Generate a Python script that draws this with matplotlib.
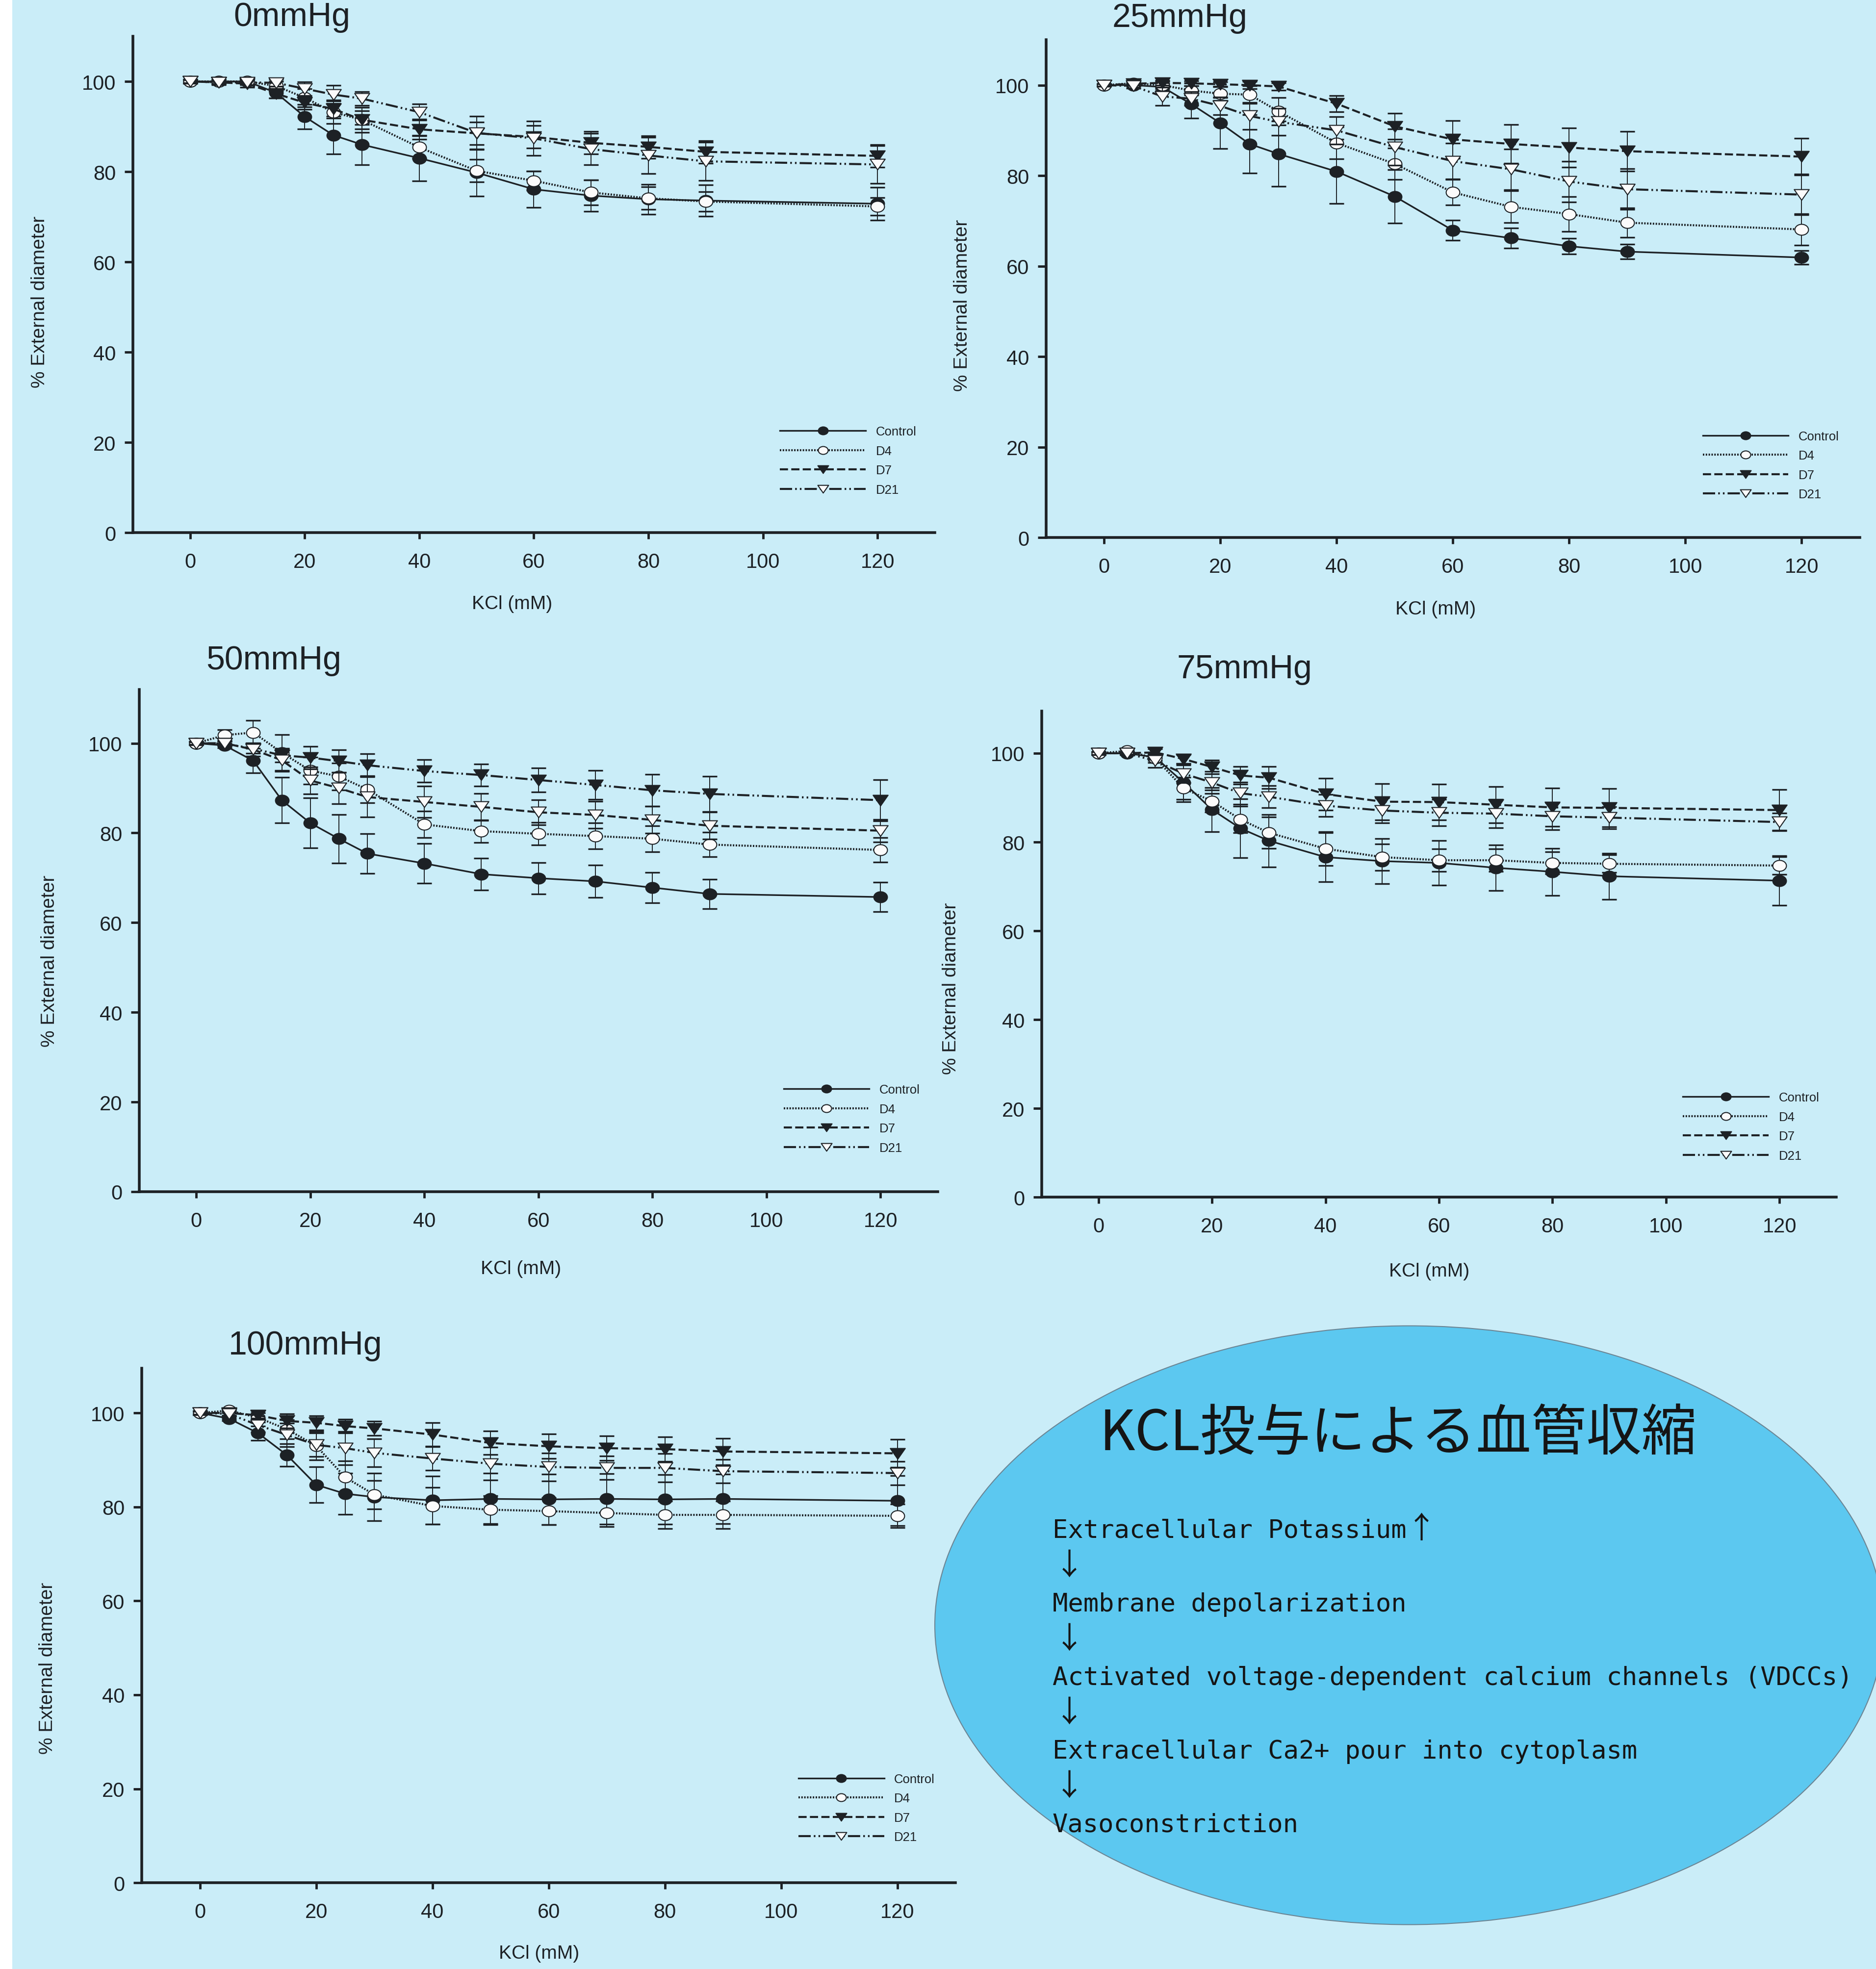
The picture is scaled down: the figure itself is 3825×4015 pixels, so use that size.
import matplotlib
matplotlib.use("Agg")
import matplotlib.pyplot as plt
from matplotlib.path import Path
from matplotlib.patches import Ellipse, Rectangle
from matplotlib.lines import Line2D
from matplotlib.transforms import Affine2D

# KCl concentrations (mM)
kcl = [0, 5, 10, 15, 20, 25, 30, 40, 50, 60, 70, 80, 90, 120]
groups = ["Control", "D4", "D7", "D21"]
pressures = ["0mmHg", "25mmHg", "50mmHg", "75mmHg", "100mmHg"]

# % external diameter (mean) and SEM, per pressure
ctrl_0 = [100, 100, 100, 97.5, 92.2, 88.1, 86.0, 83.0, 79.8, 76.1, 74.7, 73.9, 73.6, 72.9]
ctrl_0_sem = [0.4, 0.5, 0.6, 1.2, 2.7, 4.2, 4.5, 5.1, 5.2, 4.0, 3.5, 3.3, 3.5, 3.6]
d4_0 = [100, 100, 100, 99.0, 96.4, 93.2, 91.5, 85.4, 80.2, 78.0, 75.4, 74.1, 73.4, 72.3]
d4_0_sem = [0.4, 0.5, 0.5, 1.0, 2.0, 2.5, 2.8, 2.5, 2.5, 2.1, 2.8, 2.5, 2.2, 2.0]
d7_0 = [100, 99.8, 99.5, 97.3, 95.3, 93.9, 91.5, 89.4, 88.5, 87.7, 86.4, 85.5, 84.4, 83.5]
d7_0_sem = [0.4, 0.5, 0.8, 1.0, 1.5, 2.0, 2.0, 2.2, 2.5, 2.5, 2.5, 2.5, 2.5, 2.5]
d21_0 = [100, 99.8, 99.8, 99.7, 98.4, 97.1, 96.2, 93.2, 88.6, 87.4, 85.0, 83.6, 82.3, 81.6]
d21_0_sem = [0.3, 0.3, 0.5, 0.8, 1.5, 2.0, 1.5, 1.8, 3.7, 3.8, 3.5, 4.0, 4.2, 4.2]

ctrl_25 = [100, 100, 99.6, 95.8, 91.6, 87.0, 84.8, 80.9, 75.4, 67.9, 66.2, 64.4, 63.2, 61.9]
ctrl_25_sem = [0.3, 0.3, 0.8, 3.1, 5.6, 6.4, 7.2, 7.1, 5.9, 2.2, 2.2, 1.7, 1.6, 1.5]
d4_25 = [100, 100.4, 100, 98.8, 98.1, 97.9, 94.2, 87.2, 82.6, 76.3, 73.1, 71.5, 69.6, 68.1]
d4_25_sem = [0.3, 0.5, 0.8, 1.0, 1.5, 2.0, 3.0, 3.5, 3.5, 2.8, 3.5, 3.8, 3.3, 3.5]
d7_25 = [100, 100.3, 100.5, 100.4, 100.2, 100, 99.7, 95.9, 90.9, 88.0, 87.0, 86.2, 85.4, 84.2]
d7_25_sem = [0.3, 0.3, 0.5, 0.5, 0.5, 0.8, 0.8, 1.8, 2.9, 4.2, 4.3, 4.3, 4.4, 4.1]
d21_25 = [100, 99.8, 97.5, 97.0, 95.4, 93.2, 91.9, 90.0, 86.3, 83.2, 81.4, 78.7, 77.0, 75.8]
d21_25_sem = [0.3, 0.5, 2.0, 1.5, 2.0, 3.0, 3.0, 3.0, 4.0, 4.0, 4.5, 4.5, 4.5, 4.5]

ctrl_50 = [100, 99.5, 96.1, 87.3, 82.2, 78.7, 75.4, 73.2, 70.8, 69.9, 69.2, 67.8, 66.4, 65.7]
ctrl_50_sem = [0.4, 0.5, 2.7, 5.1, 5.6, 5.4, 4.4, 4.4, 3.6, 3.5, 3.6, 3.4, 3.3, 3.3]
d4_50 = [100, 101.8, 102.4, 97.9, 93.9, 92.6, 89.7, 81.9, 80.4, 79.8, 79.3, 78.7, 77.4, 76.2]
d4_50_sem = [0.4, 1.2, 2.7, 4.0, 3.0, 3.0, 3.0, 3.0, 2.5, 2.5, 2.9, 2.9, 2.7, 2.7]
d7_50 = [100, 99.9, 98.8, 97.3, 96.8, 96.0, 95.1, 93.8, 92.9, 91.8, 90.7, 89.5, 88.7, 87.3]
d7_50_sem = [0.4, 0.5, 1.0, 1.5, 2.5, 2.5, 2.5, 2.5, 2.5, 2.7, 3.2, 3.6, 3.9, 4.6]
d21_50 = [100, 100, 98.6, 96.2, 91.7, 90.0, 88.0, 86.9, 85.8, 84.6, 84.0, 82.9, 81.6, 80.5]
d21_50_sem = [0.3, 0.5, 1.5, 2.5, 3.0, 3.5, 4.5, 3.5, 3.0, 2.8, 3.0, 3.0, 3.0, 2.5]

ctrl_75 = [100, 100, 99.1, 93.4, 87.3, 83.1, 80.3, 76.6, 75.7, 75.3, 74.2, 73.3, 72.3, 71.3]
ctrl_75_sem = [0.3, 0.3, 0.8, 4.3, 5.0, 6.6, 5.9, 5.5, 5.1, 5.0, 5.1, 5.3, 5.2, 5.6]
d4_75 = [100, 100.5, 98.9, 92.1, 89.2, 85.1, 82.1, 78.5, 76.6, 75.9, 75.9, 75.3, 75.1, 74.7]
d4_75_sem = [0.3, 0.5, 1.0, 2.5, 2.5, 3.0, 3.5, 3.8, 3.0, 2.5, 2.5, 2.5, 2.0, 2.0]
d7_75 = [100, 100, 100.2, 98.7, 96.9, 95.0, 94.5, 90.8, 89.1, 89.0, 88.4, 87.8, 87.7, 87.2]
d7_75_sem = [0.3, 0.3, 0.8, 1.0, 1.5, 2.0, 2.5, 3.6, 4.1, 4.0, 4.1, 4.3, 4.3, 4.6]
d21_75 = [100, 100, 98.3, 95.4, 93.4, 91.0, 90.2, 88.2, 87.1, 86.6, 86.4, 85.8, 85.5, 84.5]
d21_75_sem = [0.3, 0.3, 1.5, 2.0, 2.5, 2.5, 2.5, 2.5, 2.8, 3.0, 3.2, 3.0, 2.5, 2.0]

ctrl_100 = [100, 98.8, 95.7, 91.0, 84.7, 82.8, 82.1, 81.4, 81.7, 81.6, 81.7, 81.6, 81.7, 81.3]
ctrl_100_sem = [0.4, 0.5, 1.5, 2.4, 3.8, 4.4, 5.1, 5.1, 5.5, 5.4, 5.4, 5.3, 5.3, 5.3]
d4_100 = [100, 100.5, 99.0, 96.5, 93.0, 86.3, 82.6, 80.2, 79.4, 79.1, 78.7, 78.3, 78.3, 78.1]
d4_100_sem = [0.4, 0.5, 1.0, 2.0, 3.0, 3.5, 3.0, 3.9, 3.0, 2.9, 2.9, 2.9, 2.9, 2.5]
d7_100 = [100, 100, 99.5, 98.3, 97.9, 97.2, 96.7, 95.4, 93.6, 92.9, 92.5, 92.3, 91.8, 91.4]
d7_100_sem = [0.4, 0.5, 1.0, 1.5, 1.5, 1.5, 1.5, 2.5, 2.5, 2.6, 2.6, 2.6, 2.8, 3.0]
d21_100 = [100, 99.8, 97.4, 95.3, 93.2, 92.5, 91.5, 90.3, 89.2, 88.5, 88.3, 88.3, 87.6, 87.2]
d21_100_sem = [0.3, 0.5, 1.5, 2.5, 2.5, 3.5, 3.0, 2.5, 3.5, 3.0, 2.5, 3.0, 2.5, 2.5]

means = [
    [ctrl_0, d4_0, d7_0, d21_0],
    [ctrl_25, d4_25, d7_25, d21_25],
    [ctrl_50, d4_50, d7_50, d21_50],
    [ctrl_75, d4_75, d7_75, d21_75],
    [ctrl_100, d4_100, d7_100, d21_100],
]
sems = [
    [ctrl_0_sem, d4_0_sem, d7_0_sem, d21_0_sem],
    [ctrl_25_sem, d4_25_sem, d7_25_sem, d21_25_sem],
    [ctrl_50_sem, d4_50_sem, d7_50_sem, d21_50_sem],
    [ctrl_75_sem, d4_75_sem, d7_75_sem, d21_75_sem],
    [ctrl_100_sem, d4_100_sem, d7_100_sem, d21_100_sem],
]

note_title = "KCL投与による血管収縮"
note_lines = [
    "Extracellular Potassium",
    "↓",
    "Membrane depolarization",
    "↓",
    "Activated voltage-dependent calcium channels (VDCCs)",
    "↓",
    "Extracellular Ca2+ pour into cytoplasm",
    "↓",
    "Vasoconstriction",
]

W, H = 3825, 4016
bg = "#caedf8"
ink = "#1d2125"

# slightly wide markers
circ = Path.unit_circle().transformed(Affine2D().scale(1.25, 1.0))
tri = Path([(0, -1), (-1.4, 1), (1.4, 1), (0, -1)], closed=True)

dotted = (0, (0.7, 0.7))
dashed = (0, (4, 1.6))
dashdotdot = (0, (6, 1.5, 0.8, 1.5, 0.8, 1.5))

styles = {
    "Control": dict(marker=circ, mfc=ink, ls="-", lw=2.4, ms=20),
    "D4": dict(marker=circ, mfc="#fbfbfb", ls=dotted, lw=3.0, ms=20),
    "D7": dict(marker=tri, mfc=ink, ls=dashed, lw=3.0, ms=22),
    "D21": dict(marker=tri, mfc="#fbfbfb", ls=dashdotdot, lw=3.0, ms=22),
}
# the 50mmHg panel draws D7 / D21 with swapped line patterns
ls_override = {2: {"D7": dashdotdot, "D21": dashed}}

rects = [
    (0.0708, 0.7293, 0.4275, 0.2520),
    (0.5576, 0.7268, 0.4337, 0.2527),
    (0.0742, 0.3947, 0.4256, 0.2550),
    (0.5553, 0.3919, 0.4235, 0.2468),
    (0.0756, 0.0438, 0.4337, 0.2612),
]
ytops = [110, 110, 112, 109.5, 109.5]
ylab_pos = [(-0.116, 0.466), (-0.103, 0.467), (-0.112, 0.46), (-0.114, 0.43), (-0.116, 0.418)]
xlab_pos = [(0.473, -0.143), (0.479, -0.144), (0.478, -0.153), (0.488, -0.152), (0.488, -0.137)]
title_pos = [(595, 53), (2406, 55), (558, 1365), (2537, 1383), (623, 2762)]

sans = ["Liberation Sans", "DejaVu Sans"]
cjk = ["Noto Sans CJK JP", "DejaVu Sans"]
mono = ["DejaVu Sans Mono", "Noto Sans CJK JP"]

fig = plt.figure(figsize=(W / 100, H / 100), dpi=100, facecolor=bg)
fig.add_artist(Rectangle((0, 0), 25 / W, 1, transform=fig.transFigure,
                         facecolor="white", edgecolor="none", zorder=0))

legend_handles = [
    Line2D([], [], color=ink, marker=styles[g]["marker"], mfc=styles[g]["mfc"],
           mec=ink, mew=1.5, ls=styles[g]["ls"], lw=styles[g]["lw"],
           ms=styles[g]["ms"])
    for g in groups
]

for i, p in enumerate(pressures):
    ax = fig.add_axes(rects[i])
    ax.set_facecolor("none")
    ax.set_xlim(-10, 130)
    ax.set_ylim(0, ytops[i])

    for j, g in enumerate(groups):
        st = styles[g]
        ls = ls_override.get(i, {}).get(g, st["ls"])
        ax.errorbar(kcl, means[i][j], yerr=sems[i][j], fmt="none", ecolor=ink,
                    elinewidth=1.4, capsize=10.5, capthick=2.4, zorder=2 + j)
        ax.plot(kcl, means[i][j], color=ink, ls=ls, lw=st["lw"],
                marker=st["marker"], ms=st["ms"], mfc=st["mfc"], mec=ink,
                mew=1.5, zorder=2.5 + j)

    for s in ["top", "right"]:
        ax.spines[s].set_visible(False)
    for s in ["left", "bottom"]:
        ax.spines[s].set_linewidth(4)
        ax.spines[s].set_color(ink)

    ax.set_xticks(range(0, 121, 20))
    ax.set_yticks(range(0, 101, 20))
    ax.tick_params(axis="both", direction="out", width=3.5, colors=ink, labelsize=30)
    ax.tick_params(axis="x", length=9, pad=20)
    ax.tick_params(axis="y", length=12, pad=13)
    for lab in ax.get_xticklabels() + ax.get_yticklabels():
        lab.set_family(sans)

    ax.set_ylabel("% External diameter", fontsize=28, family=sans, color=ink, va="center")
    ax.yaxis.set_label_coords(*ylab_pos[i])
    ax.set_xlabel("KCl (mM)", fontsize=28, family=sans, color=ink, va="center")
    ax.xaxis.set_label_coords(*xlab_pos[i])

    leg = ax.legend(legend_handles, groups, loc="center left",
                    bbox_to_anchor=(0.807, 0.145), frameon=False,
                    handlelength=6.8, handletextpad=0.8, labelspacing=0.6,
                    borderpad=0, borderaxespad=0, markerscale=0.72,
                    prop={"family": sans, "size": 18.5})
    for t in leg.get_texts():
        t.set_color(ink)

    tx, ty = title_pos[i]
    fig.text(tx / W, 1 - ty / H, p, ha="center", va="baseline",
             fontsize=49, family=sans, color=ink)

# explanatory note
fig.add_artist(Ellipse((2873 / W, 1 - 3315 / H), 1934 / W, 1221 / H,
                       transform=fig.transFigure, facecolor="#5cc8f0",
                       edgecolor="#6b8594", lw=1.5, zorder=1))
fig.text(2851 / W, 1 - 2925 / H, note_title, ha="center", va="center",
         fontsize=81, family=cjk, color="#151515", zorder=3)
for k, line in enumerate(note_lines):
    base = 1 - (3136 + 75 * k) / H
    if line == "↓":
        fig.text(2150 / W, base, line, ha="left", va="baseline",
                 fontsize=44, family=cjk, color="#151515", zorder=3)
    else:
        fig.text(2146 / W, base, line, ha="left", va="baseline",
                 fontsize=37.5, family=mono, color="#151515", zorder=3)
# rising-potassium arrow after the first line
fig.text(2868 / W, 1 - 3136 / H, "↑", ha="left", va="baseline",
         fontsize=44, family=cjk, color="#151515", zorder=3)

fig.savefig("out.png", dpi=100, facecolor=bg)
